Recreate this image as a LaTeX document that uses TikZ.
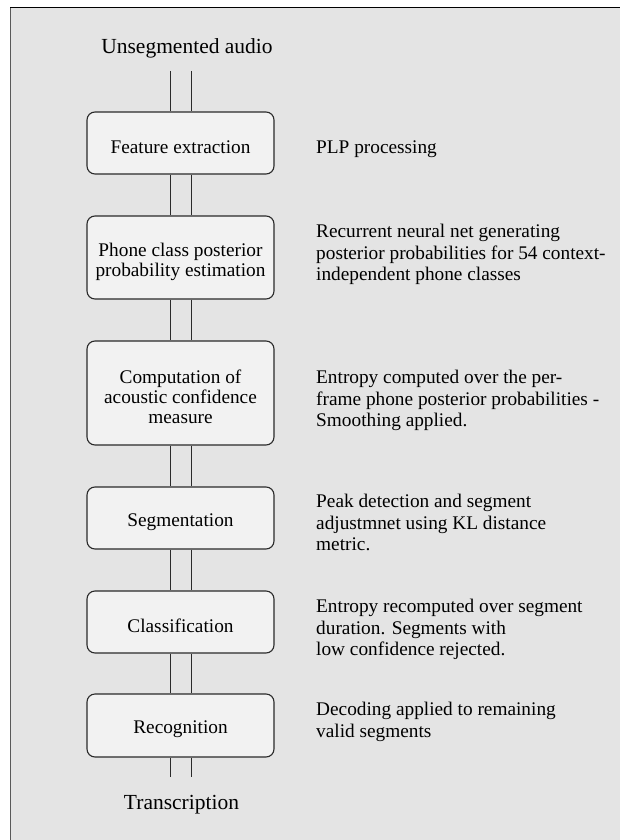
\documentclass[tikz,border=0pt]{standalone}
\usepackage{fontspec}
\setmainfont{Liberation Serif}
\definecolor{bgc}{HTML}{E4E4E4}
\definecolor{boxc}{HTML}{F2F2F2}
\definecolor{linec}{HTML}{2A2A2A}
\begin{document}
\begin{tikzpicture}[x=1pt,y=-1pt,
  stage/.style={draw=linec, line width=1.1pt, fill=boxc, rounded corners=8pt,
    minimum width=187pt, inner sep=0pt},
  stagetext/.style={inner sep=0pt, align=center,
    font=\fontsize{19.3}{20}\selectfont},
  desc/.style={anchor=north west, inner sep=0pt, align=left,
    font=\fontsize{19.3}{21.7}\selectfont},
  ends/.style={inner sep=0pt, font=\fontsize{21.5}{24}\selectfont},
  pipe/.style={draw=linec, line width=0.9pt}]
\useasboundingbox (0,0) rectangle (620,840);
\fill[white] (0,0) rectangle (620,840);
\fill[bgc] (10,8) rectangle (620,840);
\draw[gray!70!black, line width=1.5pt] (10.5,8) -- (10.5,840);
\draw[black, line width=1pt] (10,8) -- (620,8);

\node[stage, minimum height=62pt] (feat) at (180.5,143) {};
\node[stage, minimum height=83pt] (phone) at (180.5,257.5) {};
\node[stage, minimum height=104pt] (comp) at (180.5,393) {};
\node[stage, minimum height=62pt] (seg) at (180.5,518) {};
\node[stage, minimum height=62pt] (cls) at (180.5,622) {};
\node[stage, minimum height=63pt] (rec) at (180.5,725.5) {};

\node[stagetext] (featt) at ([yshift=-4pt]feat.center) {Feature extraction};
\node[stagetext] (phonet) at ([yshift=-4pt]phone.center) {Phone class posterior\\probability estimation};
\node[stagetext] (compt) at ([yshift=-4pt]comp.center) {Computation of\\acoustic confidence\\measure};
\node[stagetext] (segt) at ([yshift=-4pt]seg.center) {Segmentation};
\node[stagetext] (clst) at ([yshift=-4pt]cls.center) {Classification};
\node[stagetext] (rect) at ([yshift=-4pt]rec.center) {Recognition};

\node[ends, anchor=base] (in) at (187,54) {Unsegmented audio};
\node[ends, anchor=base] (out) at (181.5,809) {Transcription};

\coordinate (inL) at (170,71);
\coordinate (inR) at (191,71);
\coordinate (outL) at (170,777);
\coordinate (outR) at (191,777);

\draw[pipe] (inL) -- (inL |- feat.north);
\draw[pipe] (inR) -- (inR |- feat.north);
\foreach \a/\b in {feat/phone, phone/comp, comp/seg, seg/cls, cls/rec}{
  \draw[pipe] ([xshift=-10.5pt]\a.south) -- ([xshift=-10.5pt]\b.north);
  \draw[pipe] ([xshift=10.5pt]\a.south) -- ([xshift=10.5pt]\b.north);
}
\draw[pipe] (outL |- rec.south) -- (outL);
\draw[pipe] (outR |- rec.south) -- (outR);

\node[desc] (d1) at (316,141) {PLP processing};
\node[desc] (d2) at (316,224) {Recurrent neural net generating\\posterior probabilities for 54 context-\\independent phone classes};
\node[desc] (d3) at (316,370) {Entropy computed over the per-\\frame phone posterior probabilities -\\Smoothing applied.};
\node[desc] (d4) at (316,494) {Peak detection and segment\\adjustmnet using KL distance\\metric.};
\node[desc] (d5) at (316,599) {Entropy recomputed over segment\\duration. Segments with\\low confidence rejected.};
\node[desc] (d6) at (316,702) {Decoding applied to remaining\\valid segments};
\end{tikzpicture}
\end{document}
